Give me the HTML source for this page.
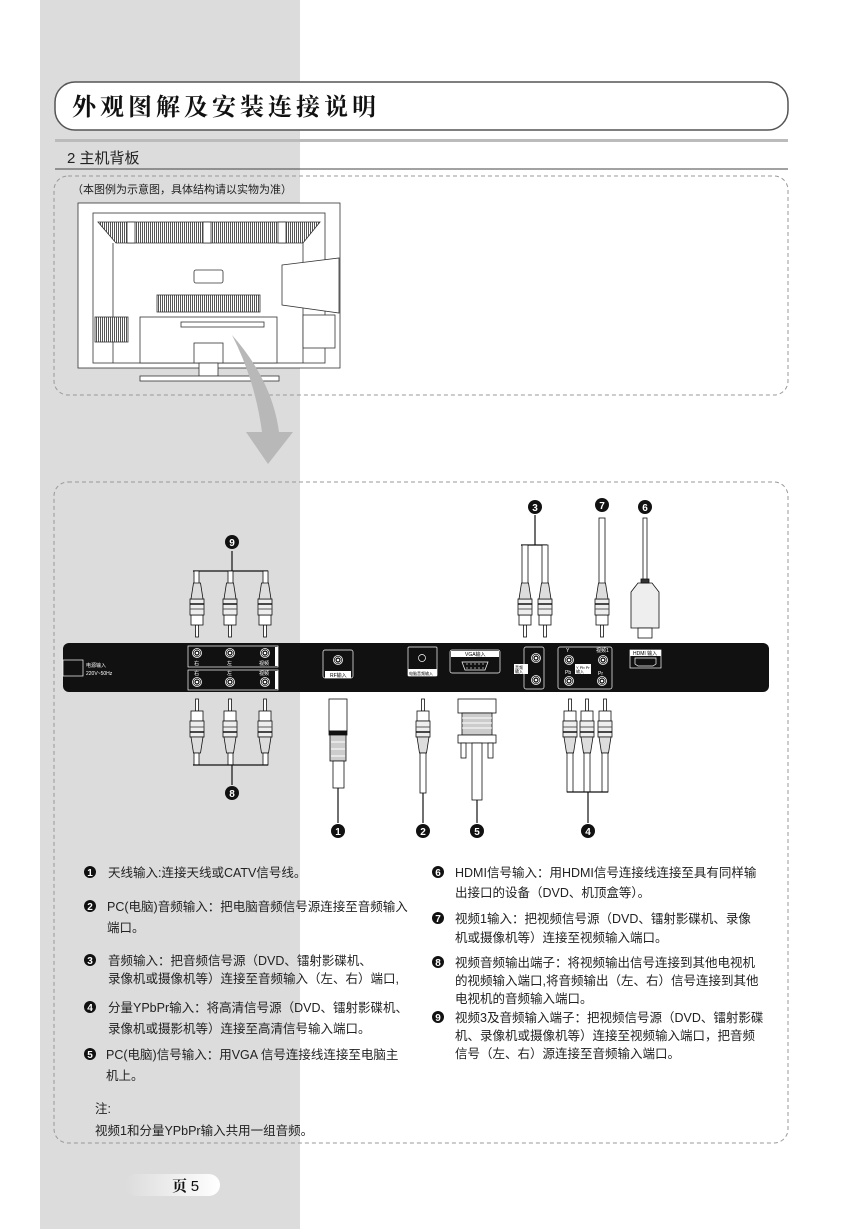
<!DOCTYPE html>
<html><head><meta charset="utf-8"><style>
html,body{margin:0;padding:0;background:#fff;}
svg{display:block}
.t{font-family:"Liberation Sans","Noto Sans CJK SC",sans-serif;font-size:12.5px;fill:#222}
.s{font-family:"Liberation Sans","Noto Sans CJK SC",sans-serif;font-size:5px;fill:#fff}
.n{font-family:"Liberation Sans",sans-serif;font-size:10px;font-weight:bold;fill:#fff;text-anchor:middle}
</style></head><body>
<svg width="851" height="1229" viewBox="0 0 851 1229" xmlns="http://www.w3.org/2000/svg">
<defs>
<pattern id="h" width="2" height="2" patternUnits="userSpaceOnUse"><rect width="2" height="2" fill="#fff"/><rect width="1" height="2" fill="#555"/></pattern>
<g id="rca">
<rect x="-1.5" y="-12" width="3" height="12" fill="#fff" stroke="#111" stroke-width="0.8"/>
<rect x="-6" y="-22" width="12" height="10" fill="#fff" stroke="#111" stroke-width="0.8"/>
<rect x="-7" y="-38" width="14" height="16" fill="#eee" stroke="#111" stroke-width="0.8"/>
<line x1="-7" y1="-33" x2="7" y2="-33" stroke="#111" stroke-width="1.5"/>
<line x1="-7" y1="-28" x2="7" y2="-28" stroke="#555" stroke-width="1"/>
<polygon points="-6,-38 -3.5,-54 3.5,-54 6,-38" fill="#ddd" stroke="#111" stroke-width="0.8"/>
</g>
<g id="jack"><circle r="4.5" fill="none" stroke="#fff" stroke-width="0.8"/><circle r="3" fill="none" stroke="#fff" stroke-width="0.8"/><circle r="1.3" fill="#fff"/></g>
</defs>
<rect x="40" y="0" width="260" height="1229" fill="#dcdcdc"/>
<!-- title -->
<rect x="55" y="82" width="733" height="48" rx="20" fill="#fff" stroke="#555" stroke-width="1.5"/>
<text x="72" y="115" style="font-family:'Liberation Serif','Noto Serif CJK SC',serif;font-weight:bold;font-size:24px;letter-spacing:4px" fill="#111">外观图解及安装连接说明</text>
<rect x="55" y="139" width="733" height="3" fill="#bbb"/>
<text x="67" y="163" class="t" style="font-size:15px">2 主机背板</text>
<line x1="55" y1="169" x2="788" y2="169" stroke="#444" stroke-width="1"/>
<rect x="54" y="176" width="734" height="219" rx="14" fill="none" stroke="#999" stroke-dasharray="4,3"/>
<text x="72" y="193" class="t" style="font-size:11px">（本图例为示意图，具体结构请以实物为准）</text>
<!-- TV -->
<g stroke="#333" stroke-width="0.8" fill="#fff">
<rect x="78" y="203" width="262" height="165"/>
<rect x="93" y="213" width="232" height="150" fill="none"/>
<polygon points="98,222 320,222 303,243 116,243" fill="url(#h)"/>
<rect x="127" y="222" width="8" height="21" fill="#fff"/><rect x="203" y="222" width="8" height="21" fill="#fff"/><rect x="278" y="222" width="8" height="21" fill="#fff"/>
<line x1="113" y1="243" x2="113" y2="363" fill="none"/><line x1="303" y1="243" x2="303" y2="363" fill="none"/>
<rect x="194" y="270" width="29" height="13" rx="2"/>
<rect x="157" y="295" width="103" height="17" fill="url(#h)"/>
<rect x="95" y="317" width="33" height="25" fill="url(#h)"/>
<rect x="140" y="317" width="137" height="46"/>
<rect x="181" y="322" width="83" height="5"/>
<rect x="194" y="343" width="29" height="20"/>
<rect x="199" y="363" width="19" height="13"/>
<rect x="140" y="376" width="139" height="5"/>
<polygon points="282,265 339,258 339,313 282,305"/>
<rect x="303" y="315" width="32" height="33"/>
</g>
<path d="M232,335 Q272,380 279,432 L293,432 L268,464 L246,432 L262,432 Q255,380 232,335 Z" fill="#b8b8b8"/>
<!-- diagram box -->
<rect x="54" y="482" width="734" height="661" rx="14" fill="none" stroke="#999" stroke-dasharray="4,3"/>
<!-- bar -->
<rect x="63" y="643" width="706" height="49" rx="6" fill="#111"/>
<g stroke="#fff" stroke-width="0.7" fill="none">
<rect x="63" y="660" width="20" height="16"/>
<rect x="188" y="646" width="90" height="21"/><rect x="188" y="670" width="90" height="20"/>
<rect x="323" y="650" width="30" height="28" rx="2"/>
<rect x="408" y="647" width="29" height="29" rx="1"/><circle cx="422" cy="658" r="3.5"/>
<rect x="450" y="650" width="50" height="23" rx="2"/>
<path d="M462,662 L488,662 L485,670 L465,670 Z"/>
<rect x="524" y="647" width="20" height="42" rx="2"/>
<rect x="558" y="647" width="54" height="42" rx="2"/>
<rect x="630" y="650" width="31" height="18"/>
<path d="M635,658 L656,658 L656,664 L653,666 L638,666 L635,664 Z"/>
</g>
<text x="86" y="667" class="s">电源输入</text><text x="86" y="675" class="s">220V~50Hz</text>
<use href="#jack" x="197" y="653"/><use href="#jack" x="230" y="653"/><use href="#jack" x="265" y="653"/>
<use href="#jack" x="197" y="682"/><use href="#jack" x="230" y="682"/><use href="#jack" x="265" y="682"/>
<text x="194" y="665" class="s">右</text><text x="227" y="665" class="s">左</text><text x="259" y="665" class="s">视频</text>
<text x="194" y="675" class="s">右</text><text x="227" y="675" class="s">左</text><text x="259" y="675" class="s">视频</text>
<rect x="275" y="647" width="3" height="19" fill="#fff"/><rect x="275" y="671" width="3" height="18" fill="#fff"/>
<use href="#jack" x="338" y="660"/>
<rect x="325" y="671" width="26" height="7" fill="#fff"/><text x="330" y="677" style="font-family:'Liberation Sans','Noto Sans CJK SC',sans-serif;font-size:5px" fill="#000">RF输入</text>
<rect x="408" y="669" width="29" height="7" fill="#fff"/><text x="409" y="675" style="font-family:'Liberation Sans','Noto Sans CJK SC',sans-serif;font-size:4px" fill="#000">电脑音频输入</text>
<rect x="451" y="651" width="48" height="6" fill="#fff"/><text x="465" y="656" style="font-family:'Liberation Sans','Noto Sans CJK SC',sans-serif;font-size:5px" fill="#000">VGA输入</text>
<g fill="#fff"><circle cx="467" cy="664" r=".6"/><circle cx="471" cy="664" r=".6"/><circle cx="475" cy="664" r=".6"/><circle cx="479" cy="664" r=".6"/><circle cx="483" cy="664" r=".6"/><circle cx="467" cy="668" r=".6"/><circle cx="471" cy="668" r=".6"/><circle cx="475" cy="668" r=".6"/><circle cx="479" cy="668" r=".6"/><circle cx="483" cy="668" r=".6"/></g>
<use href="#jack" x="536" y="658"/><use href="#jack" x="536" y="680"/>
<rect x="514" y="664" width="14" height="10" fill="#fff"/><text x="515" y="669" style="font-family:'Liberation Sans','Noto Sans CJK SC',sans-serif;font-size:4px" fill="#000">音频</text><text x="515" y="673" style="font-family:'Liberation Sans','Noto Sans CJK SC',sans-serif;font-size:4px" fill="#000">输入</text>
<use href="#jack" x="569" y="660"/><use href="#jack" x="569" y="681"/><use href="#jack" x="603" y="660"/><use href="#jack" x="602" y="681"/>
<text x="566" y="652" class="s">Y</text><text x="565" y="674" class="s">Pb</text><text x="598" y="675" class="s">Pr</text><text x="596" y="652" class="s">视频1</text>
<rect x="575" y="664" width="16" height="10" fill="#fff"/><text x="576" y="669" style="font-family:'Liberation Sans',sans-serif;font-size:4px" fill="#000">Y Pb Pr</text><text x="576" y="673" style="font-family:'Liberation Sans','Noto Sans CJK SC',sans-serif;font-size:4px" fill="#000">输入</text>
<rect x="630" y="650" width="31" height="6" fill="#fff"/><text x="633" y="655" style="font-family:'Liberation Sans','Noto Sans CJK SC',sans-serif;font-size:5px" fill="#000">HDMI 输入</text>
<!-- top cables -->
<g stroke="#111" stroke-width="1.2" fill="none">
<line x1="232" y1="551" x2="232" y2="571"/><line x1="193" y1="571" x2="268" y2="571"/>
<line x1="535" y1="515" x2="535" y2="545"/><line x1="521" y1="545" x2="547" y2="545"/>
</g>
<g fill="#fff" stroke="#111" stroke-width="0.8">
<rect x="194" y="571" width="5" height="14"/><rect x="228" y="571" width="5" height="14"/><rect x="263" y="571" width="5" height="14"/>
<rect x="522" y="545" width="6" height="40"/><rect x="542" y="545" width="6" height="40"/>
<rect x="599" y="518" width="6" height="67"/>
<rect x="643" y="518" width="4" height="65"/>
</g>
<use href="#rca" x="197" y="637"/><use href="#rca" x="230" y="637"/><use href="#rca" x="265" y="637"/>
<use href="#rca" x="525" y="637"/><use href="#rca" x="545" y="637"/><use href="#rca" x="602" y="637"/>
<g stroke="#111" stroke-width="0.8" fill="#fff">
<path d="M638,583 L652,583 L659,592 L659,628 L631,628 L631,592 Z" fill="#eee"/>
<rect x="638" y="628" width="14" height="10"/>
<rect x="641" y="579" width="8" height="4" fill="#333"/>
</g>
<!-- bottom cables -->
<g transform="translate(0,1336) scale(1,-1)">
<use href="#rca" x="197" y="637"/><use href="#rca" x="230" y="637"/><use href="#rca" x="265" y="637"/>
<use href="#rca" x="423" y="637"/>
<use href="#rca" x="570" y="637"/><use href="#rca" x="587" y="637"/><use href="#rca" x="605" y="637"/>
</g>
<g fill="#fff" stroke="#111" stroke-width="0.8">
<rect x="194" y="753" width="5" height="12"/><rect x="228" y="753" width="5" height="12"/><rect x="263" y="753" width="5" height="12"/>
<rect x="420" y="753" width="6" height="40"/>
<rect x="567" y="753" width="6" height="39"/><rect x="584" y="753" width="6" height="39"/><rect x="602" y="753" width="6" height="39"/>
<rect x="329" y="699" width="18" height="32"/>
<rect x="329" y="731" width="18" height="4" fill="#111"/>
<rect x="330" y="735" width="16" height="26" fill="#ccc"/>
<rect x="333" y="761" width="11" height="27"/>
<rect x="458" y="699" width="38" height="14"/>
<rect x="462" y="713" width="30" height="22" fill="#ccc"/>
<rect x="458" y="735" width="38" height="8"/>
<rect x="461" y="743" width="5" height="15"/><rect x="488" y="743" width="5" height="15"/>
<rect x="472" y="743" width="10" height="57"/>
</g>
<g stroke="#fff" stroke-width="1"><line x1="462" y1="718" x2="492" y2="718"/><line x1="462" y1="723" x2="492" y2="723"/><line x1="462" y1="728" x2="492" y2="728"/><line x1="331" y1="742" x2="345" y2="742"/><line x1="331" y1="749" x2="345" y2="749"/><line x1="331" y1="756" x2="345" y2="756"/></g>
<g stroke="#111" stroke-width="1.2">
<line x1="193" y1="765" x2="268" y2="765"/><line x1="232" y1="765" x2="232" y2="785"/>
<line x1="338" y1="788" x2="338" y2="823"/>
<line x1="423" y1="793" x2="423" y2="823"/>
<line x1="477" y1="800" x2="477" y2="823"/>
<line x1="567" y1="792" x2="608" y2="792"/><line x1="588" y1="792" x2="588" y2="823"/>
</g>
<!-- number badges -->
<g>
<circle cx="232" cy="542" r="7" fill="#111"/><text x="232" y="546" class="n">9</text>
<circle cx="535" cy="507" r="7" fill="#111"/><text x="535" y="511" class="n">3</text>
<circle cx="602" cy="505" r="7" fill="#111"/><text x="602" y="509" class="n">7</text>
<circle cx="645" cy="507" r="7" fill="#111"/><text x="645" y="511" class="n">6</text>
<circle cx="232" cy="793" r="7" fill="#111"/><text x="232" y="797" class="n">8</text>
<circle cx="338" cy="831" r="7" fill="#111"/><text x="338" y="835" class="n">1</text>
<circle cx="423" cy="831" r="7" fill="#111"/><text x="423" y="835" class="n">2</text>
<circle cx="477" cy="831" r="7" fill="#111"/><text x="477" y="835" class="n">5</text>
<circle cx="588" cy="831" r="7" fill="#111"/><text x="588" y="835" class="n">4</text>
</g>
<!-- list -->
<g>
<circle cx="90" cy="872" r="6" fill="#111"/><text x="90" y="876" class="n">1</text>
<circle cx="90" cy="906" r="6" fill="#111"/><text x="90" y="910" class="n">2</text>
<circle cx="90" cy="960" r="6" fill="#111"/><text x="90" y="964" class="n">3</text>
<circle cx="90" cy="1007" r="6" fill="#111"/><text x="90" y="1011" class="n">4</text>
<circle cx="90" cy="1054" r="6" fill="#111"/><text x="90" y="1058" class="n">5</text>
<circle cx="438" cy="872" r="6" fill="#111"/><text x="438" y="876" class="n">6</text>
<circle cx="438" cy="918" r="6" fill="#111"/><text x="438" y="922" class="n">7</text>
<circle cx="438" cy="962" r="6" fill="#111"/><text x="438" y="966" class="n">8</text>
<circle cx="438" cy="1017" r="6" fill="#111"/><text x="438" y="1021" class="n">9</text>
</g>
<g class="t">
<text x="108" y="877" class="t">天线输入:连接天线或CATV信号线。</text>
<text x="107" y="911" class="t">PC(电脑)音频输入：把电脑音频信号源连接至音频输入</text>
<text x="107" y="932" class="t">端口。</text>
<text x="108" y="965" class="t">音频输入：把音频信号源（DVD、镭射影碟机、</text>
<text x="108" y="983" class="t">录像机或摄像机等）连接至音频输入（左、右）端口,</text>
<text x="108" y="1012" class="t">分量YPbPr输入：将高清信号源（DVD、镭射影碟机、</text>
<text x="108" y="1033" class="t">录像机或摄影机等）连接至高清信号输入端口。</text>
<text x="106" y="1059" class="t">PC(电脑)信号输入：用VGA 信号连接线连接至电脑主</text>
<text x="106" y="1080" class="t">机上。</text>
<text x="95" y="1113" class="t">注:</text>
<text x="95" y="1135" class="t">视频1和分量YPbPr输入共用一组音频。</text>
<text x="455" y="877" class="t">HDMI信号输入：用HDMI信号连接线连接至具有同样输</text>
<text x="455" y="897" class="t">出接口的设备（DVD、机顶盒等）。</text>
<text x="455" y="923" class="t">视频1输入：把视频信号源（DVD、镭射影碟机、录像</text>
<text x="455" y="942" class="t">机或摄像机等）连接至视频输入端口。</text>
<text x="455" y="967" class="t">视频音频输出端子：将视频输出信号连接到其他电视机</text>
<text x="455" y="985" class="t">的视频输入端口,将音频输出（左、右）信号连接到其他</text>
<text x="455" y="1003" class="t">电视机的音频输入端口。</text>
<text x="455" y="1022" class="t">视频3及音频输入端子：把视频信号源（DVD、镭射影碟</text>
<text x="455" y="1040" class="t">机、录像机或摄像机等）连接至视频输入端口，把音频</text>
<text x="455" y="1058" class="t">信号（左、右）源连接至音频输入端口。</text>
</g>
<!-- footer -->
<defs><linearGradient id="g" x1="0" x2="1"><stop offset="0" stop-color="#dcdcdc"/><stop offset="1" stop-color="#fff"/></linearGradient></defs>
<rect x="125" y="1174" width="95" height="22" rx="11" fill="url(#g)"/>
<text x="172" y="1191" style="font-family:'Liberation Serif','Noto Serif CJK SC',serif;font-weight:bold;font-size:15px" fill="#111">页 <tspan font-weight="normal" font-family="Liberation Sans">5</tspan></text>
</svg>
</body></html>
